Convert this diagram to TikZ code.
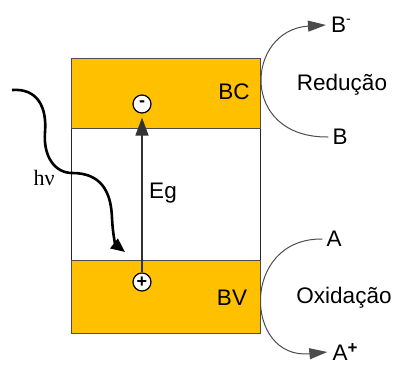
\documentclass[tikz,border=0pt]{standalone}
\usepackage{fontspec}
\setmainfont{Liberation Sans}
\newfontfamily\serifhv{Liberation Serif}
\usetikzlibrary{arrows.meta}
\definecolor{bandfill}{HTML}{FFC000}
\tikzset{band/.style={fill=bandfill, draw=black!70, line width=1pt},
         lbl/.style={font=\fontsize{22.5}{26}\selectfont, inner sep=0pt},
         charge/.style={draw, circle, fill=white, line width=1.2pt, minimum size=18pt, inner sep=0pt, font=\fontsize{18}{18}\selectfont\bfseries},
         react/.style={draw=black!70, line width=1pt, -{Triangle[length=18pt,width=11pt]}}}

\begin{document}
\begin{tikzpicture}[x=1pt, y=-1pt]
                    \useasboundingbox (0,0) rectangle (395,365);

                    \draw[black!85, line width=1pt] (71,58) rectangle (260,333);
                    \draw[band] (71,58) rectangle (260,128);
                    \draw[band] (71,260) rectangle (260,333);

                    \node[lbl] (BC) at (234,92) {BC};
                    \node[lbl] (BV) at (232,298) {BV};

                    \node[charge] (minus) at (142,104) {\raisebox{1pt}{-}};
                    \node[charge] (plus) at (142,282) {+};

                    \draw[black!80, line width=1.5pt, -{Triangle[length=18pt,width=13pt]}, shorten >=4pt] (plus) -- (minus);
                    \node[lbl] (Eg) at (163,193) {Eg};

                    % photon
                    \coordinate (light) at (12,90);
                    \coordinate (hit) at (125,252);
                    \draw[line width=2.6pt, -{Triangle[length=14pt,width=12pt]}] (light) .. controls (38,88) and (47,108) .. (45,132)
                        .. controls (43,158) and (56,173) .. (72,173)
                        .. controls (100,173) and (111,190) .. (112,218)
                        .. controls (113,238) and (116,245) .. (hit);
                    \node[inner sep=0pt, font=\serifhv\fontsize{22}{26}\selectfont] (hv) at (44,178) {hν};

                    % reduction
                    \node[lbl] (Bm) at (341,25) {B\raisebox{9pt}{\fontsize{14}{14}\selectfont -}};
                    \node[lbl] (B) at (340,137) {B};
                    \node[lbl] (red) at (342,85) {Redução};
                    \draw[react] (B.west) ++(-4,0) .. controls (238,138) and (246,30) .. ([xshift=-5pt]Bm.west);

                    % oxidation
                    \node[lbl] (A) at (334,239) {A};
                    \node[lbl] (Ap) at (345,352) {A\raisebox{7pt}{\fontsize{17}{17}\selectfont\bfseries +}};
                    \node[lbl] (oxi) at (344,298) {Oxidação};
                    \draw[react] (A.west) ++(-4,0) .. controls (240,238) and (244,360) .. ([xshift=-5pt]Ap.west);

                 \end{tikzpicture}
\end{document}
